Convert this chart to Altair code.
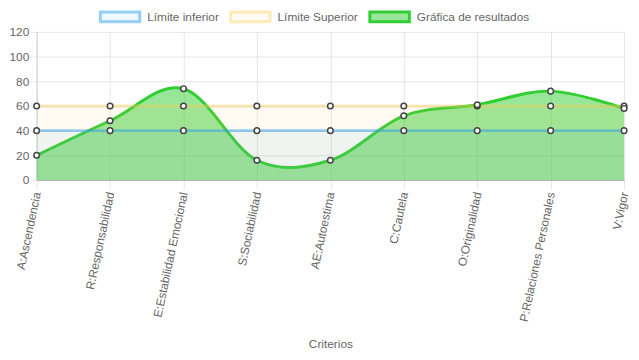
import altair as alt
import pandas as pd

categorias = ["A:Ascendencia", "R:Responsabilidad", "E:Estabilidad Emocional",
              "S:Sociabilidad", "AE:Autoestima", "C:Cautela", "O:Originalidad",
              "P:Relaciones Personales", "V:Vigor"]
resultados = [20, 48, 74, 16, 16, 52, 61, 72, 58]
limite_inferior = [40, 40, 40, 40, 40, 40, 40, 40, 40]
limite_superior = [60, 60, 60, 60, 60, 60, 60, 60, 60]
series = ["Límite inferior", "Límite Superior", "Gráfica de resultados"]
y_ticks = [0, 20, 40, 60, 80, 100, 120]

stroke_cols = ["rgba(54,162,235,0.5)", "rgba(255,206,86,0.4)", "rgb(50,205,50)"]
fill_cols = ["rgba(54,162,235,0.08)", "rgba(255,206,86,0.08)", "rgba(50,205,50,0.5)"]

rows = []
for s, vals in zip(series, [limite_inferior, limite_superior, resultados]):
    for i, (c, v) in enumerate(zip(categorias, vals)):
        rows.append({"criterio": c, "serie": s, "valor": v, "idx": i})
df = pd.DataFrame(rows)

FONT = "Liberation Sans"

x_enc = alt.X("criterio:N", sort=categorias,
              scale=alt.Scale(type="point", padding=0, domain=categorias),
              axis=alt.Axis(title="Criterios", labelAngle=-78, labelAlign="right",
                            labelBaseline="middle", labelPadding=3, tickSize=9,
                            tickColor="#e6e6e6", grid=True, gridColor="#e6e6e6",
                            domainColor="#b0b0b0", labelColor="#666", labelFont=FONT,
                            labelFontSize=12, titleColor="#666", titleFont=FONT,
                            titleFontSize=12, titleFontWeight="normal",
                            titleBaseline="alphabetic", titleY=170))
y_enc = alt.Y("valor:Q", scale=alt.Scale(domain=[0, 120], nice=False),
              axis=alt.Axis(title=None, values=y_ticks, tickSize=7, tickColor="#e6e6e6",
                            grid=True, gridColor="#e6e6e6", domainColor="#d0d0d0",
                            labelColor="#666", labelFont=FONT, labelFontSize=12,
                            labelPadding=1))

base = alt.Chart(df)

layers = []
for s, sc, fc in zip(reversed(series), reversed(stroke_cols), reversed(fill_cols)):
    interp = "cardinal" if s == "Gráfica de resultados" else "linear"
    sub = base.transform_filter(alt.datum.serie == s)
    layers.append(sub.mark_area(interpolate=interp, color=fc).encode(x=x_enc, y=y_enc))
    layers.append(sub.mark_line(interpolate=interp, color=sc, strokeWidth=3).encode(x=x_enc, y=y_enc))

points = base.mark_point(filled=False, fill="white", stroke="#444", strokeWidth=1.5,
                         size=32, opacity=1).encode(x=x_enc, y=y_enc)

legend_layer = base.transform_filter("false").mark_point(strokeWidth=3, opacity=1).encode(
    x=x_enc, y=y_enc,
    fill=alt.Fill("serie:N", scale=alt.Scale(domain=series, range=fill_cols),
                  legend=alt.Legend(title=None)),
    stroke=alt.Stroke("serie:N", scale=alt.Scale(domain=series, range=stroke_cols),
                      legend=alt.Legend(title=None)),
)

chart = alt.layer(*layers, points, legend_layer).properties(
    width=595, height=150,
    autosize=alt.AutoSizeParams(type="none"),
    padding={"left": 29, "top": 22, "right": 7, "bottom": 172},
).configure_view(strokeWidth=0).configure_legend(
    orient="none", direction="horizontal", legendX=63, legendY=-22,
    symbolType="M-1,-1H7V1H-1Z", symbolSize=100, symbolStrokeWidth=3,
    symbolOpacity=1, labelOffset=36, columnPadding=5, labelFont=FONT,
    labelFontSize=12, labelColor="#666",
)

chart.save("out.html", embed_options={"renderer": "svg", "actions": False})
